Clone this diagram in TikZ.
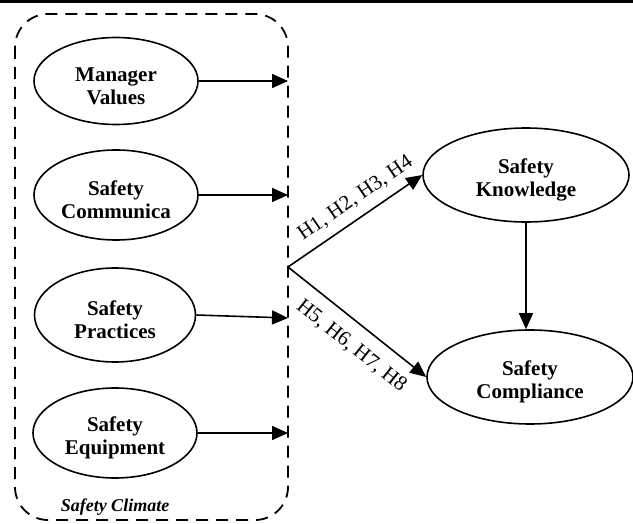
\documentclass[tikz,border=0pt]{standalone}
\usepackage{fontspec}
\setmainfont{Liberation Serif}
\usetikzlibrary{shapes.geometric,arrows.meta}
\newcommand{\lowstrut}{\rule{0pt}{24pt}}
\begin{document}
\begin{tikzpicture}[x=1pt,y=-1pt,
  construct/.style={ellipse,draw,line width=1.6pt,inner sep=0pt,align=center,
    font=\fontsize{21}{23}\selectfont\bfseries},
  link/.style={line width=1.6pt,-{Triangle[length=16pt,width=14pt]}},
  hlabel/.style={font=\fontsize{21}{23}\selectfont,sloped,inner sep=1pt}]
\useasboundingbox (0,0) rectangle (633,524);
\fill[black] (0,0) rectangle (633,3);
\draw[dash pattern=on 12pt off 8pt,line width=1.8pt,rounded corners=33pt]
  (15,14) rectangle (288,520);
\node[font=\fontsize{18}{20}\selectfont\bfseries\itshape] (climate) at (115,507) {Safety Climate};
\node[construct,minimum width=164pt,minimum height=87pt] (mv) at (116,81) {\lowstrut Manager\\Values};
\node[construct,minimum width=164pt,minimum height=90pt] (sc) at (116,195) {\lowstrut Safety\\Communica};
\node[construct,minimum width=161pt,minimum height=94pt] (sp) at (115,315) {\lowstrut Safety\\Practices};
\node[construct,minimum width=164pt,minimum height=90pt] (se) at (115,433) {\lowstrut Safety\\Equipment};
\node[construct,minimum width=206pt,minimum height=94pt] (sk) at (526,175) {\lowstrut Safety\\Knowledge};
\node[construct,minimum width=206pt,minimum height=94pt] (scp) at (530,377) {\lowstrut Safety\\Compliance};
\coordinate (t1) at (288,81);
\coordinate (t2) at (288,195);
\coordinate (t3) at (288,318);
\coordinate (t4) at (288,433);
\coordinate (br) at (288,267);
\draw[link] (mv.east |- t1) -- (t1);
\draw[link] (sc.east |- t2) -- (t2);
\draw[link] (sp.east) -- (t3);
\draw[link] (se.east |- t4) -- (t4);
\draw[link] (br) -- (sk.west) node[hlabel,pos=0.58,above=8pt] {H1, H2, H3, H4};
\draw[link] (br) -- (scp.west) node[hlabel,pos=0.56,below=12pt] {H5, H6, H7, H8};
\draw[link] (sk.south) -- (sk.south |- scp.north);
\end{tikzpicture}
\end{document}
